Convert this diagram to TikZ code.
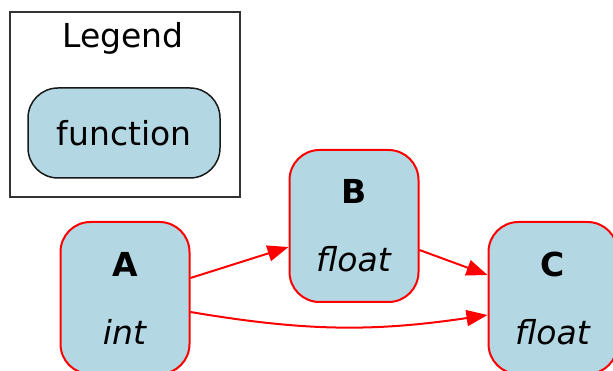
\documentclass[tikz,border=0pt]{standalone}
\usepackage{fontspec}
\setmainfont{DejaVu Sans}
\usetikzlibrary{positioning}
\usetikzlibrary{arrows.meta}
\definecolor{nodeblue}{HTML}{B3D7E3}

\begin{document}
\begin{tikzpicture}[x=1pt,y=-1pt,
    every node/.style = {align=center,font=\fontsize{33pt}{68pt}\selectfont},
    func/.style = {draw=red,line width=2pt,fill=nodeblue,rounded corners=30pt,
        minimum width=129pt,minimum height=152pt,inner sep=0pt},
    dep/.style = {draw=red,line width=2pt,-{Triangle[length=21pt,width=16pt]}}]
\useasboundingbox (0,0) rectangle (613,371);
% legend
\node[draw=black!80,line width=2pt,minimum width=230pt,minimum height=185pt] (legend) at (125,104.5) {};
\node[anchor=base] (legendtitle) at (123,48) {Legend};
\node[draw=black!90,line width=1.5pt,fill=nodeblue,rounded corners=30pt,
    minimum width=192pt,minimum height=90pt,inner sep=0pt] (fn) at (124,133) {function};
% functions
\node[func] (a) at (125,298) {\textbf{A}\\\textit{int}};
\node[func] (b) at (354,226) {\textbf{B}\\\textit{float}};
\node[func] (c) at (553,298) {\textbf{C}\\\textit{float}};
\draw[dep] ([yshift=20pt]a.east) -- ([yshift=-21pt]b.west);
\draw[dep] ([yshift=-24pt]b.east) -- ([yshift=23pt]c.west);
\draw[dep] ([yshift=-14pt]a.east) to [bend right=9] ([yshift=-17pt]c.west);
\end{tikzpicture}
\end{document}
